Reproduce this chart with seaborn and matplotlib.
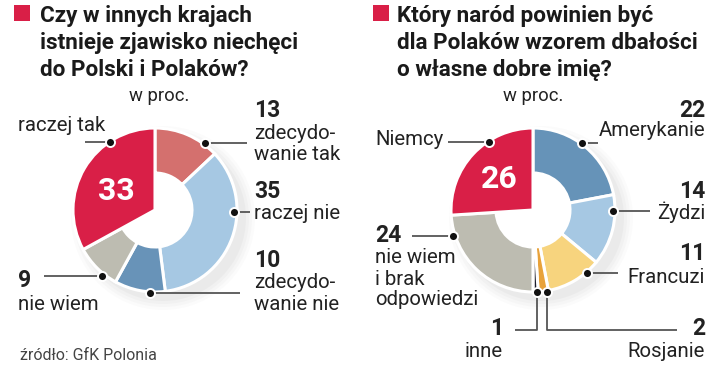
import numpy as np
import matplotlib
matplotlib.use("Agg")
import matplotlib.pyplot as plt
import seaborn as sns
from matplotlib.patches import Circle, Rectangle

sns.set_theme(style="white")
plt.rcParams['font.family'] = ['Roboto', 'DejaVu Sans']

# ---------------- data ----------------
left_title = ["Czy w innych krajach", "istnieje zjawisko niechęci", "do Polski i Polaków?"]
left_labels = ["zdecydowanie tak", "raczej nie", "zdecydowanie nie", "nie wiem", "raczej tak"]
left_values = [13, 35, 10, 9, 33]
left_colors = ["#D4706E", "#A6C8E3", "#6893B8", "#BDBCB1", "#D91F47"]

right_title = ["Który naród powinien być", "dla Polaków wzorem dbałości", "o własne dobre imię?"]
right_labels = ["Amerykanie", "Żydzi", "Francuzi", "Rosjanie", "inne",
                "nie wiem i brak odpowiedzi", "Niemcy"]
right_values = [22, 14, 11, 2, 1, 24, 26]
right_colors = ["#6693B8", "#A6C8E3", "#F7D47E", "#E8A23A", "#1C1C2A", "#BDBCB1", "#D91F47"]

unit_text = "w proc."
source_text = "źródło: GfK Polonia"

# ---------------- figure ----------------
W, H = 720, 368
fig = plt.figure(figsize=(7.2, 3.68), dpi=100)
ax = fig.add_axes([0, 0, 1, 1])


def Y(y):
    return H - y


R, r = 82, 37
TXT = "#222222"
LINE = "#555555"
FS = 14.7
FSN = 16.5


def donut(values, colors, cx, cy):
    # soft shadow toward lower right
    for dr, a in [(10, 0.025), (7, 0.03), (4, 0.04), (1, 0.05)]:
        ax.add_patch(Circle((cx + 8, Y(cy) - 8), R + dr, color="#7a7a7a", alpha=a, lw=0, zorder=0))
    ax.add_patch(Circle((cx, Y(cy)), R - 2, color="white", lw=0, zorder=1))
    wedges, _ = ax.pie(values, colors=colors, startangle=90, counterclock=False,
                       center=(cx, Y(cy)), radius=R, frame=True,
                       wedgeprops=dict(width=R - r, edgecolor="white", linewidth=2.2))
    for w in wedges:
        w.set_zorder(2)
    wedges[-1].set_width(None)  # the highlighted slice is a full pie slice
    return wedges


donut(left_values, left_colors, 155, 210)
donut(right_values, right_colors, 533, 210)


def leader(pts, dot):
    xs = [p[0] for p in pts]
    ys = [Y(p[1]) for p in pts]
    ax.plot(xs, ys, color=LINE, lw=1.3, zorder=3, solid_capstyle="butt")
    ax.plot(dot[0], Y(dot[1]), "o", color="#111111", ms=6.5, mec="white", mew=1.4, zorder=4)


def txt(x, y, s, ha="left", bold=False, size=FS, color=TXT):
    ax.text(x, Y(y), s, ha=ha, va="baseline", fontsize=size, color=color,
            fontweight="bold" if bold else "normal", zorder=5)


# titles
for x0, x1, lines in [(14, 40, left_title), (373, 397, right_title)]:
    ax.add_patch(Rectangle((x0, Y(21)), 16, 16, color="#D91F47", lw=0))
    for i, line in enumerate(lines):
        ax.text(x1, Y(22 + 27 * i), line, ha="left", va="baseline", fontsize=16.2,
                color="#1a1a1a", fontweight="bold")

txt(159, 101, unit_text, ha="center", size=13.3)
txt(533, 101, unit_text, ha="center", size=13.3)

# ---- left labels ----
txt(116, 200, f"{left_values[4]}", ha="center", bold=True, size=23, color="white")
txt(18, 131, left_labels[4])
leader([(85, 142), (110, 142)], (110, 142))

txt(254, 117, f"{left_values[0]}", bold=True, size=FSN)
txt(254, 139, "zdecydo-")
txt(254, 160, "wanie tak")
leader([(205, 143), (247, 143)], (205, 143))

txt(254, 198, f"{left_values[1]}", bold=True, size=FSN)
txt(254, 219, left_labels[1])
leader([(234, 212), (250, 212)], (234, 212))

txt(254, 267, f"{left_values[2]}", bold=True, size=FSN)
txt(254, 288, "zdecydo-")
txt(254, 310, "wanie nie")
leader([(150, 293), (240, 293)], (150, 293))

txt(18, 287, f"{left_values[3]}", bold=True, size=FSN)
txt(18, 310, left_labels[3])
leader([(44, 276), (102, 276)], (102, 276))

txt(20, 360, source_text, size=11.5, color="#444444")

# ---- right labels ----
txt(499, 188, f"{right_values[6]}", ha="center", bold=True, size=23, color="white")
txt(375, 145, right_labels[6])
leader([(448, 142), (489, 142)], (489, 142))

txt(705, 117, f"{right_values[0]}", ha="right", bold=True, size=FSN)
txt(705, 136, right_labels[0], ha="right")
leader([(582, 143), (598, 143)], (582, 143))

txt(705, 198, f"{right_values[1]}", ha="right", bold=True, size=FSN)
txt(705, 219, right_labels[1], ha="right")
leader([(613, 211), (650, 211)], (613, 211))

txt(705, 260, f"{right_values[2]}", ha="right", bold=True, size=FSN)
txt(705, 283, right_labels[2], ha="right")
leader([(587, 273), (618, 273)], (587, 273))

txt(375, 242, f"{right_values[5]}", bold=True, size=FSN)
txt(375, 263, "nie wiem")
txt(375, 285, "i brak")
txt(375, 305, "odpowiedzi")
leader([(412, 236), (453, 236)], (453, 236))

txt(503, 335, f"{right_values[4]}", ha="right", bold=True, size=FSN)
txt(503, 357, right_labels[4], ha="right")
leader([(537, 292), (537, 330), (515, 330)], (537, 292))

txt(705, 335, f"{right_values[3]}", ha="right", bold=True, size=FSN)
txt(705, 357, right_labels[3], ha="right")
leader([(547, 292), (547, 330), (677, 330)], (547, 292))

ax.set_xlim(0, W)
ax.set_ylim(0, H)
ax.set_aspect("equal")
ax.axis("off")

fig.savefig("out.png", dpi=100, facecolor="white")
